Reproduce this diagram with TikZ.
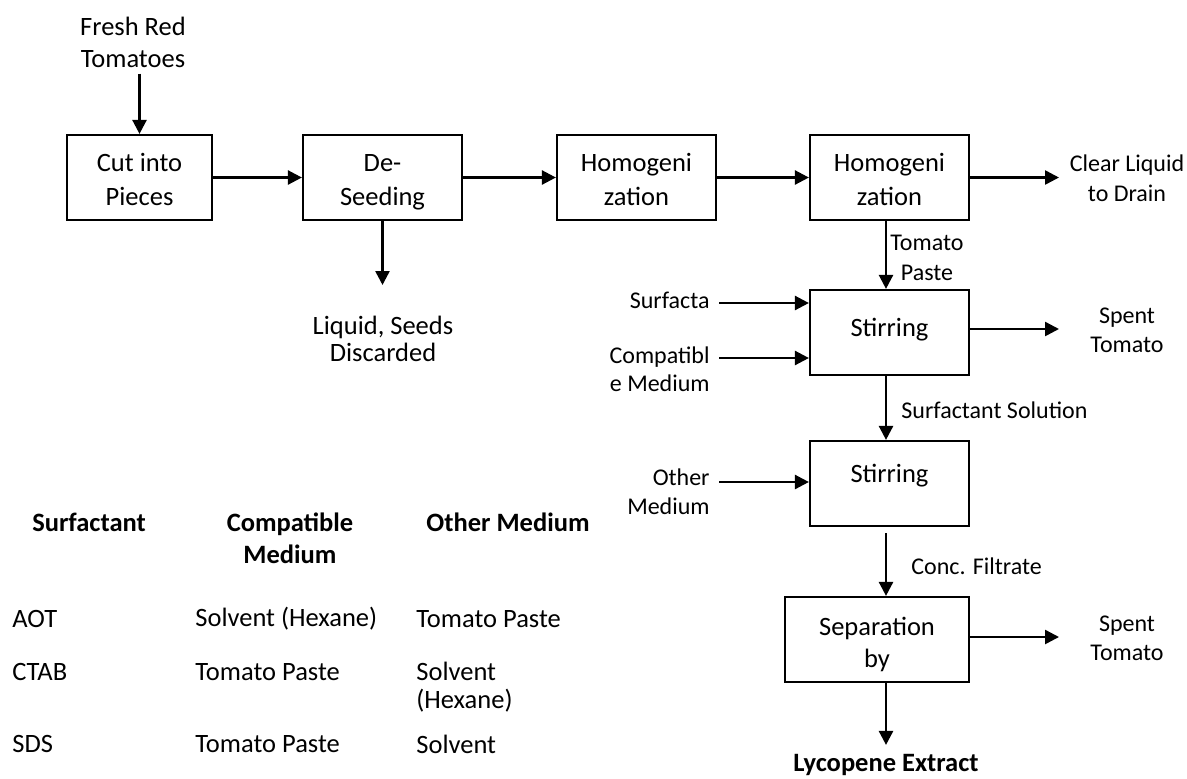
\documentclass[tikz,border=0pt]{standalone}
\usepackage{fontspec}
\setmainfont{Carlito}
\usetikzlibrary{arrows.meta}
\newcommand\fbig{\fontsize{13.25}{17}\selectfont}
\newcommand\fsm{\fontsize{12}{15}\selectfont}
\newcommand\tstr[1]{\rule{0pt}{#1}}
\newcommand\bstr[1]{\rule[-#1]{0pt}{#1}}
\begin{document}
\begin{tikzpicture}[x=0.5pt,y=-0.5pt,
  box/.style={draw,line width=1.1pt,minimum width=79.5pt,minimum height=42.5pt,inner sep=0pt,align=center,font=\fbig},
  lab/.style={inner sep=0pt,align=center,font=\fsm},
  big/.style={inner sep=0pt,align=center,font=\fbig},
  arr/.style={line width=1.25pt,-{Triangle[length=7pt,width=7pt]}}]
\useasboundingbox (0,0) rectangle (1187,778);

% process boxes
\node[box,minimum width=72.5pt] (cut) at (139.5,177.5) {\tstr{14.3pt}Cut into\\Pieces\bstr{3pt}};
\node[box] (des) at (382.5,177.5) {\tstr{14.3pt}De-\\Seeding\bstr{3pt}};
\node[box] (hom1) at (636.5,177.5) {\tstr{14.3pt}Homogeni\\zation\bstr{3pt}};
\node[box] (hom2) at (889.5,177.5) {\tstr{14.3pt}Homogeni\\zation\bstr{3pt}};
\node[box] (st1) at (889.5,332.5) {Stirring\bstr{5.3pt}};
\node[box] (st2) at (889.5,483.5) {Stirring\bstr{10.3pt}};
\node[box,minimum width=92pt,font=\fontsize{13.25}{16}\selectfont] (sep) at (877,639.5) {\tstr{15.3pt}Separation\\by\bstr{3pt}};

% text labels
\node[big,font=\fontsize{13.25}{16}\selectfont] (fresh) at (133,42) {Fresh Red\\Tomatoes};
\node[big,font=\fontsize{13.25}{13.5}\selectfont] (liq) at (383,339) {Liquid, Seeds\\Discarded};
\node[lab] (clear) at (1127,178) {Clear Liquid\\to Drain};
\node[lab,anchor=west] (tp) at (890,258) {Tomato\\Paste};
\node[lab,anchor=east] (surf) at (710,300) {Surfacta};
\node[lab,anchor=east,align=right,font=\fontsize{12}{14}\selectfont] (comp) at (710,369) {Compatibl\\e Medium};
\node[lab,anchor=east,align=right,font=\fontsize{12}{14.5}\selectfont] (oth) at (710,492) {Other\\Medium};
\node[lab,font=\fontsize{12}{14.5}\selectfont] (spent1) at (1127,330) {Spent\\Tomato};
\node[lab,font=\fontsize{12}{14.5}\selectfont] (spent2) at (1127,638) {Spent\\Tomato};
\node[lab,anchor=west] (ss) at (901,410) {Surfactant Solution};
\node[lab,anchor=west] (cf) at (911,566) {Conc. Filtrate};
\node[big,font=\fbig\bfseries] (lyc) at (886,765) {Lycopene Extract};

% helper coordinates
\coordinate (ax) at (886,0);
\coordinate (clearend) at (1059,177.5);
\coordinate (lqend) at (382.5,285);
\coordinate (s1) at (719,303);
\coordinate (s2) at (719,358);
\coordinate (s3) at (719,482);
\coordinate (sp1) at (1059,329);
\coordinate (sp2) at (1059,637);

% connectors
\draw[arr] ([yshift=-3pt]fresh.south -| cut.north) -- (cut.north);
\draw[arr] (cut) -- (des);
\draw[arr] (des) -- (hom1);
\draw[arr] (hom1) -- (hom2);
\draw[arr] (hom2) -- (clearend);
\draw[arr] (des.south) -- (lqend);
\draw[arr] (hom2.south -| ax) -- (st1.north -| ax);
\draw[arr] (s1) -- (s1 -| st1.west);
\draw[arr] (s2) -- (s2 -| st1.west);
\draw[arr] (sp1 -| st1.east) -- (sp1);
\draw[arr] (st1.south -| ax) -- (st2.north -| ax);
\draw[arr] (s3) -- (s3 -| st2.west);
\draw[arr] ([yshift=-3pt]st2.south -| ax) -- (sep.north -| ax);
\draw[arr] (sp2 -| sep.east) -- (sp2);
\draw[arr] (sep.south -| ax) -- ([yshift=4.5pt]lyc.north -| ax);

% table
\node[big,font=\fbig\bfseries] (th1) at (89,522) {Surfactant};
\node[big,font=\fontsize{13.25}{16}\selectfont\bfseries] (th2) at (290,538) {Compatible\\Medium};
\node[big,font=\fbig\bfseries] (th3) at (508,522) {Other Medium};
\node[big,anchor=west] (r1a) at (12,619) {AOT};
\node[big,anchor=west] (r1b) at (195,619) {Solvent (Hexane)};
\node[big,anchor=west] (r1c) at (416,619) {Tomato Paste};
\node[big,anchor=west] (r2a) at (12,672) {CTAB};
\node[big,anchor=west] (r2b) at (195,672) {Tomato Paste};
\node[big,anchor=west,align=left,font=\fontsize{13.25}{14}\selectfont] (r2c) at (416,687) {Solvent\\(Hexane)};
\node[big,anchor=west] (r3a) at (12,744) {SDS};
\node[big,anchor=west] (r3b) at (195,744) {Tomato Paste};
\node[big,anchor=west] (r3c) at (416,744) {Solvent};
\end{tikzpicture}
\end{document}
